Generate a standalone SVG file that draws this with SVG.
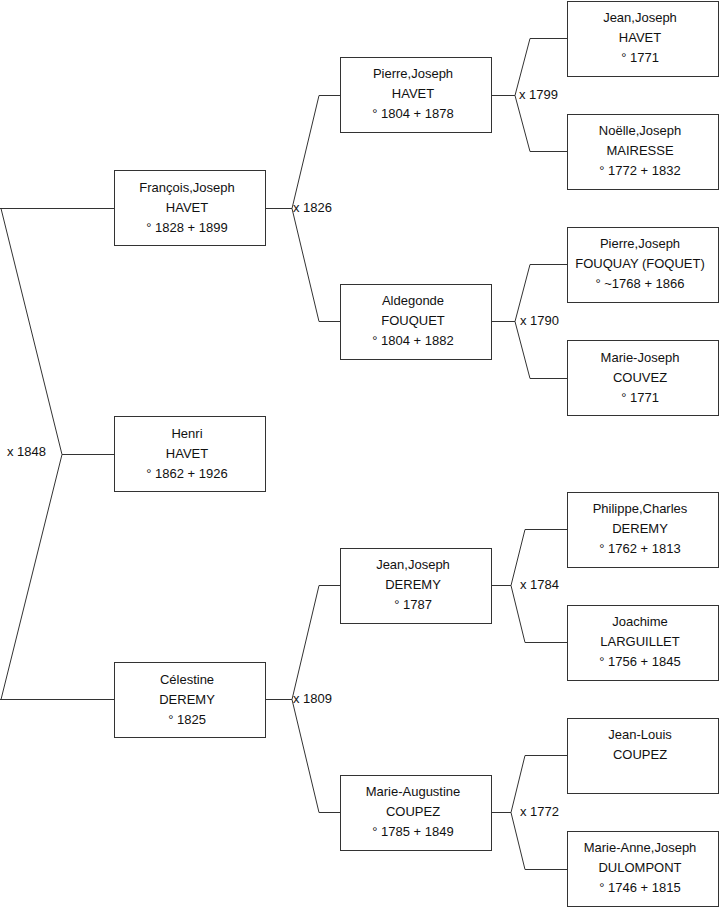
<svg xmlns="http://www.w3.org/2000/svg" width="719" height="908" viewBox="0 0 719 908">
<style>
.b{fill:#fff;stroke:#333;stroke-width:1}
.c{fill:none;stroke:#333;stroke-width:1}
text{font-family:"Liberation Sans",Arial,sans-serif;font-size:13px;fill:#111}
.m{text-anchor:middle}
</style>
<rect width="719" height="908" fill="#fff"/>
<g id="connectors">
<path class="c" d="M0 208.5H114.5M0 699.5H114.5M1 208.5L62 454.5L1 699.5M62 454.5H114.5"/>
<path class="c" d="M265.5 208.5H292M292 208.5L319 95.5M292 208.5L319 321.5M319 95.5H340.5M319 321.5H340.5"/>
<path class="c" d="M265.5 699.5H292M292 699.5L319 585.5M292 699.5L319 812.5M319 585.5H340.5M319 812.5H340.5"/>
<path class="c" d="M491.5 95.5H515M515 95.5L530 38.5M515 95.5L530 151.5M530 38.5H567.5M530 151.5H567.5"/>
<path class="c" d="M491.5 321.5H515M515 321.5L530 264.5M515 321.5L530 378.5M530 264.5H567.5M530 378.5H567.5"/>
<path class="c" d="M491.5 585.5H511M511 585.5L525 529.5M511 585.5L525 642.5M525 529.5H567.5M525 642.5H567.5"/>
<path class="c" d="M491.5 812.5H511M511 812.5L525 755.5M511 812.5L525 869.5M525 755.5H567.5M525 869.5H567.5"/>
<text x="7" y="456">x 1848</text>
<text x="293" y="212">x 1826</text>
<text x="293" y="703">x 1809</text>
<text x="519" y="99">x 1799</text>
<text x="520" y="325">x 1790</text>
<text x="520" y="589">x 1784</text>
<text x="520" y="816">x 1772</text>
</g>
<g id="francois"><rect class="b" x="114.5" y="170.5" width="151" height="75"/><text class="m" x="187" y="192">François,Joseph</text><text class="m" x="187" y="212">HAVET</text><text class="m" x="187" y="232">° 1828 + 1899</text></g>
<g id="henri"><rect class="b" x="114.5" y="416.5" width="151" height="75"/><text class="m" x="187" y="438">Henri</text><text class="m" x="187" y="458">HAVET</text><text class="m" x="187" y="478">° 1862 + 1926</text></g>
<g id="celestine"><rect class="b" x="114.5" y="662.5" width="151" height="75"/><text class="m" x="187" y="684">Célestine</text><text class="m" x="187" y="704">DEREMY</text><text class="m" x="187" y="724">° 1825</text></g>
<g id="pierre"><rect class="b" x="340.5" y="57.5" width="151" height="75"/><text class="m" x="413" y="78">Pierre,Joseph</text><text class="m" x="413" y="98">HAVET</text><text class="m" x="413" y="118">° 1804 + 1878</text></g>
<g id="aldegonde"><rect class="b" x="340.5" y="284.5" width="151" height="75"/><text class="m" x="413" y="305">Aldegonde</text><text class="m" x="413" y="325">FOUQUET</text><text class="m" x="413" y="345">° 1804 + 1882</text></g>
<g id="jean-deremy"><rect class="b" x="340.5" y="548.5" width="151" height="75"/><text class="m" x="413" y="569">Jean,Joseph</text><text class="m" x="413" y="589">DEREMY</text><text class="m" x="413" y="609">° 1787</text></g>
<g id="marie-augustine"><rect class="b" x="340.5" y="775.5" width="151" height="75"/><text class="m" x="413" y="796">Marie-Augustine</text><text class="m" x="413" y="816">COUPEZ</text><text class="m" x="413" y="836">° 1785 + 1849</text></g>
<g id="jean-havet"><rect class="b" x="567.5" y="1.5" width="151" height="75"/><text class="m" x="640" y="22">Jean,Joseph</text><text class="m" x="640" y="42">HAVET</text><text class="m" x="640" y="62">° 1771</text></g>
<g id="noelle"><rect class="b" x="567.5" y="114.5" width="151" height="75"/><text class="m" x="640" y="135">Noëlle,Joseph</text><text class="m" x="640" y="155">MAIRESSE</text><text class="m" x="640" y="175">° 1772 + 1832</text></g>
<g id="pierre-fouquay"><rect class="b" x="567.5" y="227.5" width="151" height="75"/><text class="m" x="640" y="248">Pierre,Joseph</text><text class="m" x="640" y="268">FOUQUAY (FOQUET)</text><text class="m" x="640" y="288">° ~1768 + 1866</text></g>
<g id="marie-joseph"><rect class="b" x="567.5" y="340.5" width="151" height="75"/><text class="m" x="640" y="362">Marie-Joseph</text><text class="m" x="640" y="382">COUVEZ</text><text class="m" x="640" y="402">° 1771</text></g>
<g id="philippe"><rect class="b" x="567.5" y="492.5" width="151" height="75"/><text class="m" x="640" y="513">Philippe,Charles</text><text class="m" x="640" y="533">DEREMY</text><text class="m" x="640" y="553">° 1762 + 1813</text></g>
<g id="joachime"><rect class="b" x="567.5" y="605.5" width="151" height="75"/><text class="m" x="640" y="626">Joachime</text><text class="m" x="640" y="646">LARGUILLET</text><text class="m" x="640" y="666">° 1756 + 1845</text></g>
<g id="jean-louis"><rect class="b" x="567.5" y="718.5" width="151" height="75"/><text class="m" x="640" y="739">Jean-Louis</text><text class="m" x="640" y="759">COUPEZ</text></g>
<g id="marie-anne"><rect class="b" x="567.5" y="831.5" width="151" height="75"/><text class="m" x="640" y="852">Marie-Anne,Joseph</text><text class="m" x="640" y="872">DULOMPONT</text><text class="m" x="640" y="892">° 1746 + 1815</text></g>
</svg>
